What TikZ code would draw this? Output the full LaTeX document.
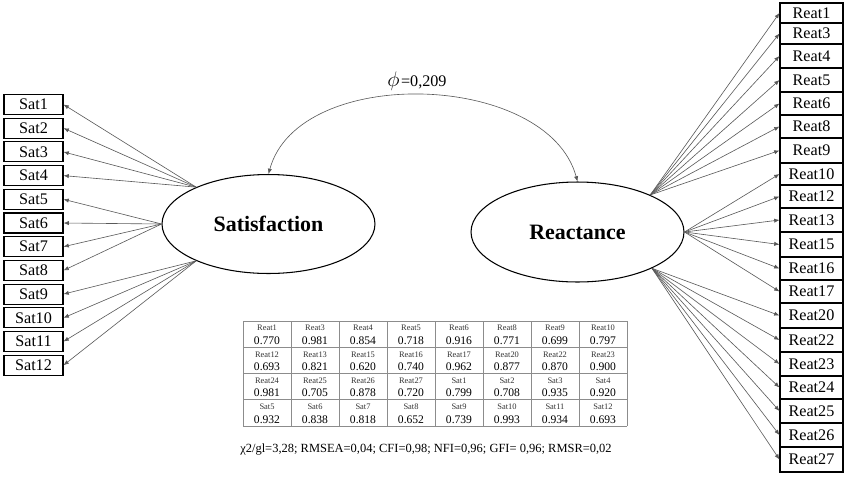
\documentclass[tikz,border=0pt]{standalone}
\usepackage{fontspec}
\setmainfont{Liberation Serif}
\usetikzlibrary{shapes.geometric,arrows.meta}
\begin{document}
\begin{tikzpicture}[x=0.02cm,y=-0.02cm,
    item/.style={draw,line width=0.6pt,inner sep=0pt,font=\fontsize{9.2}{10}\selectfont},
    latent/.style={draw,ellipse,line width=0.6pt,inner sep=0pt,minimum width=4.26cm,minimum height=1.98cm,font=\fontsize{12.5}{14}\selectfont\bfseries},
    load/.style={draw=black!65,line width=0.35pt,-{Latex[length=3pt,width=2.4pt]}},
    tabline/.style={draw=black!45,line width=0.4pt},
    cellname/.style={font=\fontsize{4.8}{5}\selectfont,text=black!80},
    cellval/.style={font=\fontsize{6.6}{7}\selectfont}]
    \useasboundingbox (0,0) rectangle (850,478);
    \node[latent] (sat) at (268.5,224) {Satisfaction};
    \node[latent,minimum height=2cm] (reat) at (577.5,232) {Reactance};
    % covariance
    \draw[load,{Latex[length=3pt,width=2.4pt]}-{Latex[length=3pt,width=2.4pt]}] (sat.north) .. controls +(30,-110) and +(-30,-110) .. (reat.north);
    \node (phi) at (417,81) {{\fontsize{13}{14}\selectfont$\phi$}\kern0.8pt\fontsize{9.2}{10}\selectfont=0,209};
    % satisfaction items
    \foreach \i/\a in {1/153,2/153,3/153,4/153,5/180,6/180,7/180,8/180,9/207,10/207,11/207,12/207}{
        \node[item,minimum width=1.18cm,minimum height=0.4cm] (s\i) at (33.5,{104.5+23.7*(\i-1)}) {Sat\i};
        \draw[load] (sat.\a) -- (s\i.east);
    }
    % reactance items
    \foreach \n/\t/\b/\a in {1/3/23/27,3/23/44/27,4/44/68/27,5/68/92/27,6/92/115/27,8/115/138/27,9/138/163/27,
        10/163/185/0,12/185/208/0,13/208/232/0,15/232/257/0,16/257/280/0,17/280/303/0,
        20/303/328/334,22/328/352/334,23/352/376/334,24/376/399/334,25/399/423/334,26/423/447/334,27/447/472/334}{
        \pgfmathsetmacro\h{(\b-\t)*0.02}
        \node[item,minimum width=1.26cm,minimum height=\h cm] (r\n) at (811.5,{(\t+\b)/2}) {Reat\n};
        \draw[load] (reat.\a) -- (r\n.west);
    }
    % loadings table
    \foreach \r in {0,...,4}
        \draw[tabline] (243,{321+26.25*\r}) -- (627,{321+26.25*\r});
    \foreach \c in {0,...,8}
        \draw[tabline] ({243+48*\c},321) -- ({243+48*\c},426);
    \foreach \nm/\v [count=\k from 0] in {Reat1/0.770,Reat3/0.981,Reat4/0.854,Reat5/0.718,Reat6/0.916,Reat8/0.771,Reat9/0.699,Reat10/0.797,
        Reat12/0.693,Reat13/0.821,Reat15/0.620,Reat16/0.740,Reat17/0.962,Reat20/0.877,Reat22/0.870,Reat23/0.900,
        Reat24/0.981,Reat25/0.705,Reat26/0.878,Reat27/0.720,Sat1/0.799,Sat2/0.708,Sat3/0.935,Sat4/0.920,
        Sat5/0.932,Sat6/0.838,Sat7/0.818,Sat8/0.652,Sat9/0.739,Sat10/0.993,Sat11/0.934,Sat12/0.693}{
        \pgfmathtruncatemacro\row{\k/8}
        \pgfmathtruncatemacro\col{mod(\k,8)}
        \node[cellname] (n\k) at ({267+48*\col},{328+26.25*\row}) {\nm};
        \node[cellval] (v\k) at ({267+48*\col},{340.5+26.25*\row}) {\v};
    }
    \node[font=\fontsize{7.1}{9}\selectfont] (fit) at (426,450) {χ2/gl=3,28; RMSEA=0,04; CFI=0,98; NFI=0,96; GFI= 0,96; RMSR=0,02};
\end{tikzpicture}
\end{document}
